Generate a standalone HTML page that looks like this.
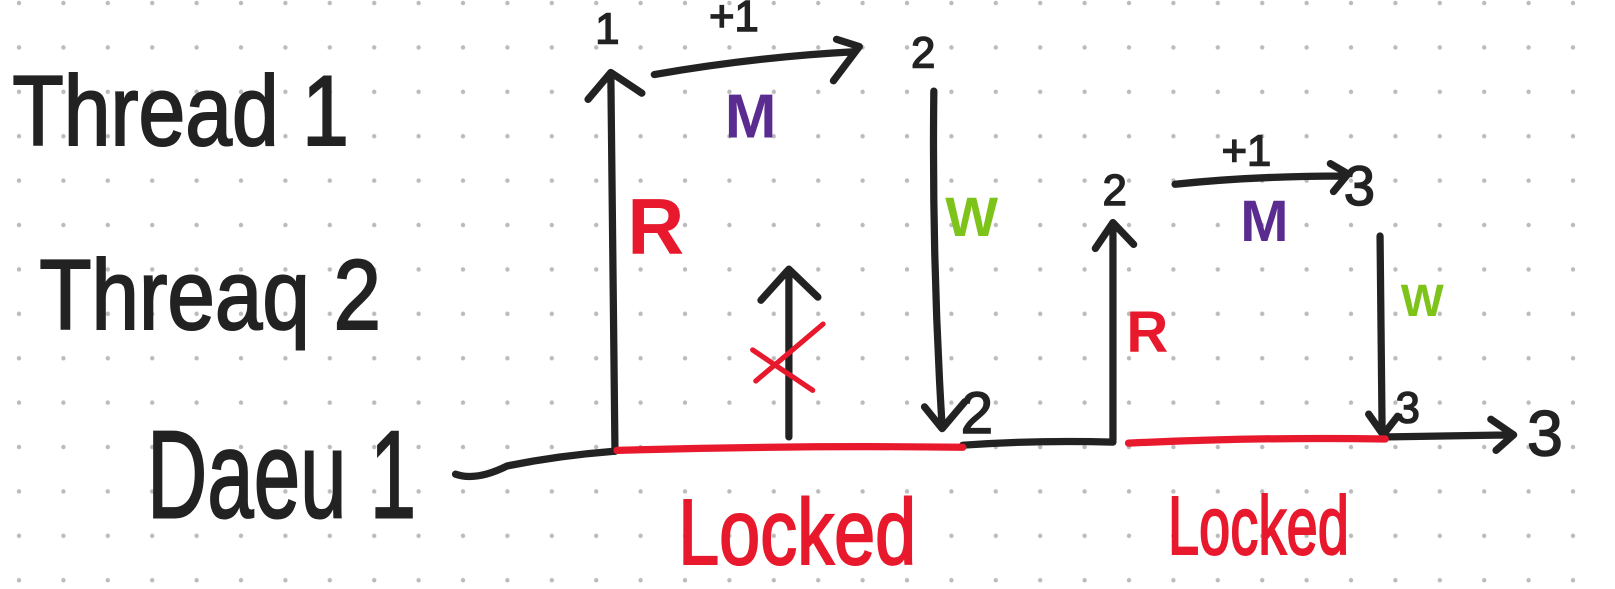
<!DOCTYPE html>
<html><head><meta charset="utf-8"><style>
html,body{margin:0;padding:0;background:#fff;}
svg{display:block;}
text{font-family:"Liberation Sans",sans-serif;}
</style></head><body>
<svg id="c" width="1615" height="589" viewBox="0 0 1615 589">
<defs><pattern id="dots" x="0" y="0" width="44.4" height="44.4" patternUnits="userSpaceOnUse">
<circle cx="19" cy="3" r="2.2" fill="#bbb"/></pattern></defs>
<rect x="0" y="0" width="1615" height="589" fill="url(#dots)"/>
<g transform="scale(1.0353)">
<g fill="#222" stroke="#222" stroke-width="2" font-size="96">
<text x="12" y="140" textLength="325" lengthAdjust="spacingAndGlyphs">Thread 1</text>
<text x="38" y="318" textLength="330" lengthAdjust="spacingAndGlyphs">Threaq 2</text>
<text x="142" y="500" font-size="120" textLength="260" lengthAdjust="spacingAndGlyphs">Daeu 1</text>
<text x="385" y="510" font-size="130"></text>
</g>
<g fill="none" stroke="#222" stroke-width="7" stroke-linecap="round" stroke-linejoin="round">
<path d="M440 458 Q460 465 490 450 Q540 440 592 436"/>
<path d="M930 430 Q1000 425 1075 427"/>
<path d="M1340 422 L1460 420 M1440 405 L1462 420 L1445 435"/>
<path d="M594 436 L590 72 M568 96 L590 70 L620 90"/>
<path d="M632 72 Q730 55 825 50 M808 38 L830 45 L805 78"/>
<path d="M902 88 Q900 250 910 412 M893 393 L910 414 L932 388"/>
<path d="M762 422 L762 262 M735 290 L762 260 L790 287"/>
<path d="M1075 425 L1075 215 M1058 240 L1075 215 L1095 236"/>
<path d="M1135 178 Q1210 170 1300 170 M1285 158 L1302 168 L1288 185"/>
<path d="M1333 228 L1335 418 M1322 400 L1336 420 L1350 402"/>
</g>
<g fill="none" stroke="#e8192c" stroke-width="7" stroke-linecap="round">
<path d="M596 435 Q770 430 930 432"/>
<path d="M1090 428 Q1220 422 1338 424"/>
<path d="M727 338 L785 377 M730 368 L795 313" stroke-width="5"/>
</g>
<g font-size="42" fill="#222" stroke="#222" stroke-width="1.5">
<text x="575" y="42">1</text>
<text x="685" y="30">+1</text>
<text x="880" y="65">2</text>
<text x="928" y="418" font-size="56">2</text>
<text x="1065" y="198">2</text>
<text x="1180" y="160">+1</text>
<text x="1298" y="198" font-size="54">3</text>
<text x="1348" y="408">3</text>
<text x="1475" y="440" font-size="62">3</text>
</g>
<g font-weight="bold">
<text x="700" y="133" fill="#5b2c8f" font-size="60">M</text>
<text x="1198" y="233" fill="#5b2c8f" font-size="56">M</text>
<text x="606" y="245" fill="#e8192c" font-size="76">R</text>
<text x="1088" y="340" fill="#e8192c" font-size="56">R</text>
<text x="913" y="228" fill="#7dc31a" font-size="54">W</text>
<text x="1353" y="305" fill="#7dc31a" font-size="44">W</text>
</g>
<g fill="#e8192c" stroke="#e8192c" stroke-width="2">
<text x="655" y="545" font-size="90" textLength="230" lengthAdjust="spacingAndGlyphs">Locked</text>
<text x="1128" y="535" font-size="80" textLength="175" lengthAdjust="spacingAndGlyphs">Locked</text>
</g>
</g>
</svg>
</body></html>
